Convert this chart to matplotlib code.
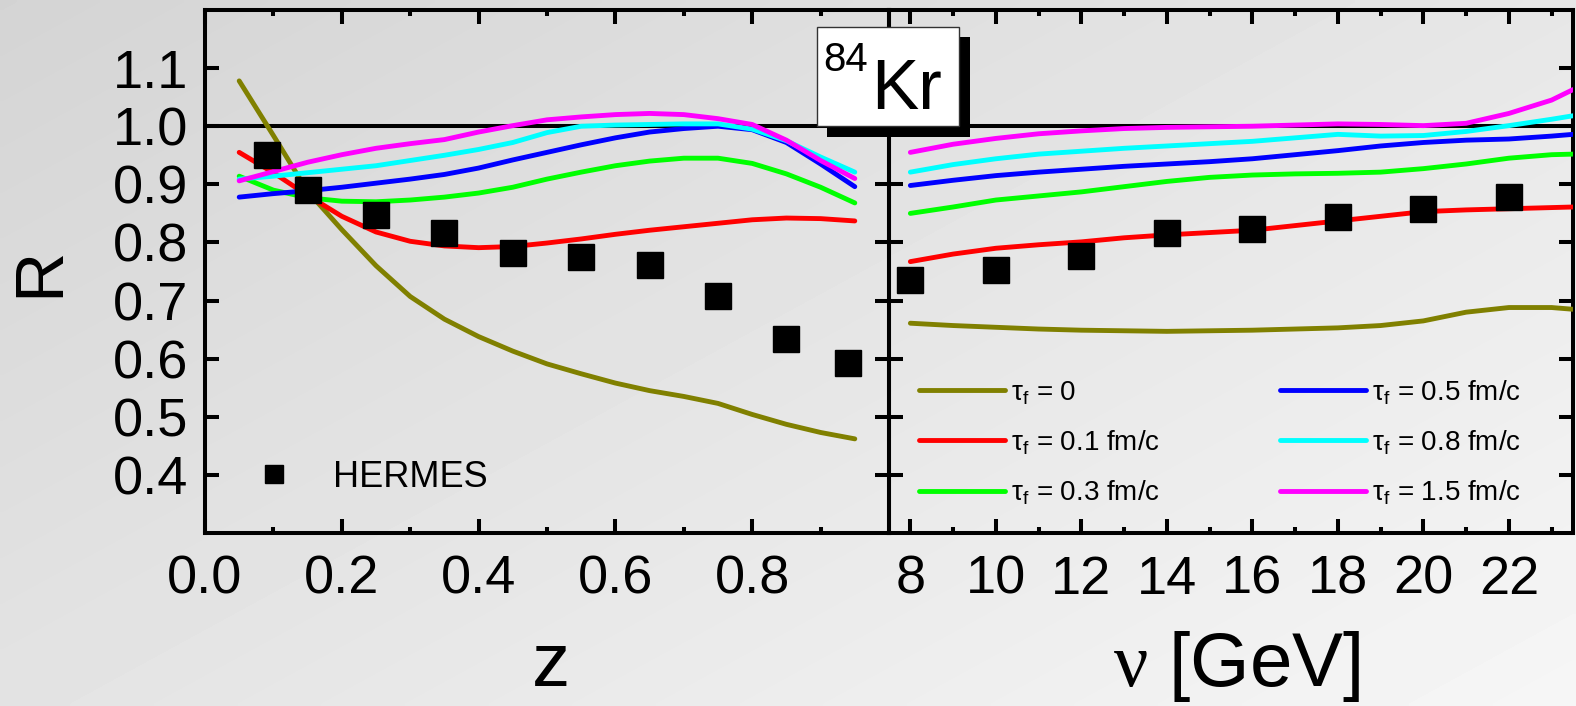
import numpy as np
import matplotlib
matplotlib.use("Agg")
import matplotlib.pyplot as plt
from matplotlib.patches import Rectangle
from matplotlib.ticker import FixedLocator, FormatStrFormatter

plt.rcParams["font.family"] = ["Liberation Sans", "DejaVu Sans"]
plt.rcParams["mathtext.fontset"] = "custom"
plt.rcParams["mathtext.rm"] = "Liberation Sans"
plt.rcParams["mathtext.it"] = "Liberation Serif"

# left panel: R versus z
Z_GRID = [0.05, 0.10, 0.15, 0.20, 0.25, 0.30, 0.35, 0.40, 0.45, 0.50,
          0.55, 0.60, 0.65, 0.70, 0.75, 0.80, 0.85, 0.90, 0.95]
Z_TAU0 = [1.078, 0.984, 0.888, 0.822, 0.760, 0.707, 0.668, 0.638, 0.613, 0.591,
          0.574, 0.558, 0.545, 0.535, 0.523, 0.504, 0.487, 0.473, 0.462]
Z_TAU01 = [0.955, 0.920, 0.881, 0.845, 0.818, 0.802, 0.794, 0.791, 0.793, 0.799,
           0.806, 0.814, 0.821, 0.827, 0.833, 0.839, 0.842, 0.841, 0.837]
Z_TAU03 = [0.914, 0.890, 0.877, 0.871, 0.870, 0.873, 0.878, 0.885, 0.895, 0.909,
           0.921, 0.932, 0.940, 0.945, 0.945, 0.936, 0.918, 0.895, 0.868]
Z_TAU05 = [0.878, 0.884, 0.889, 0.895, 0.902, 0.909, 0.917, 0.928, 0.942, 0.955,
           0.968, 0.980, 0.990, 0.996, 1.000, 0.994, 0.972, 0.935, 0.896]
Z_TAU08 = [0.909, 0.914, 0.920, 0.926, 0.932, 0.941, 0.950, 0.960, 0.972, 0.989,
           1.000, 1.002, 1.003, 1.004, 1.004, 0.995, 0.975, 0.947, 0.921]
Z_TAU15 = [0.906, 0.922, 0.938, 0.951, 0.962, 0.970, 0.977, 0.990, 1.001, 1.011,
           1.016, 1.020, 1.022, 1.020, 1.013, 1.003, 0.976, 0.941, 0.910]

HERMES_Z = [0.09, 0.15, 0.25, 0.35, 0.45, 0.55, 0.65, 0.75, 0.85, 0.94]
HERMES_Z_R = [0.951, 0.891, 0.848, 0.817, 0.782, 0.775, 0.762, 0.708, 0.634, 0.593]

# right panel: R versus nu
NU_GRID = [8, 9, 10, 11, 12, 13, 14, 15, 16, 17, 18, 19, 20, 21, 22, 23, 23.5]
NU_TAU0 = [0.661, 0.657, 0.654, 0.651, 0.649, 0.648, 0.647, 0.648, 0.649,
           0.651, 0.653, 0.657, 0.665, 0.680, 0.688, 0.688, 0.685]
NU_TAU01 = [0.767, 0.780, 0.790, 0.796, 0.801, 0.808, 0.813, 0.817, 0.821,
            0.829, 0.837, 0.845, 0.853, 0.856, 0.858, 0.860, 0.861]
NU_TAU03 = [0.850, 0.861, 0.873, 0.880, 0.887, 0.896, 0.905, 0.912, 0.916,
            0.918, 0.919, 0.921, 0.927, 0.935, 0.945, 0.951, 0.952]
NU_TAU05 = [0.898, 0.907, 0.915, 0.921, 0.926, 0.931, 0.935, 0.939, 0.944,
            0.951, 0.958, 0.966, 0.972, 0.976, 0.978, 0.983, 0.986]
NU_TAU08 = [0.921, 0.934, 0.944, 0.952, 0.957, 0.962, 0.966, 0.970, 0.974,
            0.980, 0.986, 0.983, 0.984, 0.991, 1.001, 1.012, 1.018]
NU_TAU15 = [0.955, 0.969, 0.979, 0.987, 0.992, 0.996, 0.998, 0.999, 1.000,
            1.002, 1.004, 1.003, 1.001, 1.005, 1.022, 1.045, 1.063]

HERMES_NU = [8, 10, 12, 14, 16, 18, 20, 22]
HERMES_NU_R = [0.736, 0.753, 0.776, 0.817, 0.823, 0.844, 0.857, 0.878]

CURVE_LABELS = [r"$\mathrm{\tau_f}$ = 0", r"$\mathrm{\tau_f}$ = 0.1 fm/c",
                r"$\mathrm{\tau_f}$ = 0.3 fm/c", r"$\mathrm{\tau_f}$ = 0.5 fm/c",
                r"$\mathrm{\tau_f}$ = 0.8 fm/c", r"$\mathrm{\tau_f}$ = 1.5 fm/c"]
CURVE_COLORS = ["#808000", "#ff0000", "#00ff00", "#0000ff", "#00ffff", "#ff00ff"]

Y_TICKS = [0.4, 0.5, 0.6, 0.7, 0.8, 0.9, 1.0, 1.1]

W, H = 1576, 706
LW = 3.5


def style_axis(ax):
    ax.set_facecolor("none")
    for spine in ax.spines.values():
        spine.set_linewidth(2.9)
    ax.tick_params(which="both", direction="in", top=True, right=True, left=True,
                   width=2.9, labelsize=39)
    ax.tick_params(which="major", length=10)
    ax.tick_params(which="minor", length=4.5)
    ax.tick_params(axis="x", pad=15.5)
    ax.tick_params(axis="y", pad=12)
    ax.set_ylim(0.3, 1.2)
    ax.yaxis.set_major_locator(FixedLocator(Y_TICKS))
    ax.yaxis.set_major_formatter(FormatStrFormatter("%.1f"))
    ax.axhline(1.0, color="black", linewidth=2.9, zorder=1)


def add_background(fig):
    bg = fig.add_axes([0, 0, 1, 1], zorder=-10)
    xf = np.linspace(0, 1, 300)
    yf = np.linspace(0, 1, 150)
    xx, yy = np.meshgrid(xf, yf)
    shade = (212 + 34 * (0.55 * xx + 0.45 * yy)) / 255.0
    bg.imshow(shade, cmap="gray", vmin=0, vmax=1, aspect="auto",
              extent=[0, 1, 1, 0], interpolation="bilinear")
    bg.set_axis_off()


def main():
    fig = plt.figure(figsize=(W / 100, H / 100), dpi=100)
    add_background(fig)

    bottom = 1 - 533 / H
    height = 523 / H
    ax1 = fig.add_axes([205 / W, bottom, 684 / W, height])
    ax2 = fig.add_axes([889 / W, bottom, 684 / W, height])
    style_axis(ax1)
    style_axis(ax2)

    left_curves = [Z_TAU0, Z_TAU01, Z_TAU03, Z_TAU05, Z_TAU08, Z_TAU15]
    right_curves = [NU_TAU0, NU_TAU01, NU_TAU03, NU_TAU05, NU_TAU08, NU_TAU15]

    for values, color in zip(left_curves, CURVE_COLORS):
        ax1.plot(Z_GRID, values, color=color, linewidth=LW, solid_capstyle="round",
                 solid_joinstyle="round", zorder=3)
    hermes = ax1.plot(HERMES_Z, HERMES_Z_R, "s", color="black", markersize=18.5,
                      zorder=4, label="HERMES")[0]

    handles = []
    for values, color, label in zip(right_curves, CURVE_COLORS, CURVE_LABELS):
        line = ax2.plot(NU_GRID, values, color=color, linewidth=LW, solid_capstyle="round",
                        solid_joinstyle="round", zorder=3, label=label)[0]
        handles.append(line)
    ax2.plot(HERMES_NU, HERMES_NU_R, "s", color="black", markersize=18.5, zorder=4)

    ax1.set_xlim(0.0, 1.0)
    ax1.xaxis.set_major_locator(FixedLocator([0.0, 0.2, 0.4, 0.6, 0.8]))
    ax1.xaxis.set_minor_locator(FixedLocator([0.1, 0.3, 0.5, 0.7, 0.9]))
    ax1.xaxis.set_major_formatter(FormatStrFormatter("%.1f"))

    ax2.set_xlim(7.5, 23.5)
    ax2.xaxis.set_major_locator(FixedLocator(list(range(8, 23, 2))))
    ax2.xaxis.set_minor_locator(FixedLocator(list(range(9, 24, 2))))
    ax2.tick_params(axis="y", labelleft=False)

    ax1.legend([hermes], ["HERMES"], loc="center left", bbox_to_anchor=(0.048, 0.107),
               frameon=False, fontsize=26, numpoints=1, markerscale=0.67,
               handlelength=2.0, handletextpad=0.64, borderpad=0, borderaxespad=0)

    ax2.legend(handles, CURVE_LABELS, ncol=2, loc="lower left",
               bbox_to_anchor=(0.044, 0.05), frameon=False, fontsize=20,
               handlelength=3.1, handletextpad=0.22, columnspacing=4.3,
               labelspacing=0.78, borderpad=0, borderaxespad=0)

    fig.text(40 / W, 1 - 272 / H, "R", rotation=90, fontsize=50, ha="center", va="center")
    fig.text(551 / W, 1 - 666 / H, "z", fontsize=55, ha="center", va="center")
    fig.text(1237 / W, 1 - 666 / H, r"$\nu$ [GeV]", fontsize=55, ha="center", va="center")

    # nucleus label box with drop shadow
    fig.add_artist(Rectangle((827 / W, 1 - 137 / H), 143 / W, 100 / H,
                             transform=fig.transFigure, facecolor="black",
                             edgecolor="none", zorder=5))
    fig.add_artist(Rectangle((817 / W, 1 - 126 / H), 142 / W, 99 / H,
                             transform=fig.transFigure, facecolor="white",
                             edgecolor="#333333", linewidth=1.0, zorder=6))
    fig.text(823 / W, 1 - 71 / H, "84", fontsize=29, ha="left", va="baseline", zorder=7)
    fig.text(871 / W, 1 - 109 / H, "Kr", fontsize=51, ha="left", va="baseline", zorder=7)

    fig.savefig("out.png", dpi=100)
    plt.close(fig)


if __name__ == "__main__":
    main()
